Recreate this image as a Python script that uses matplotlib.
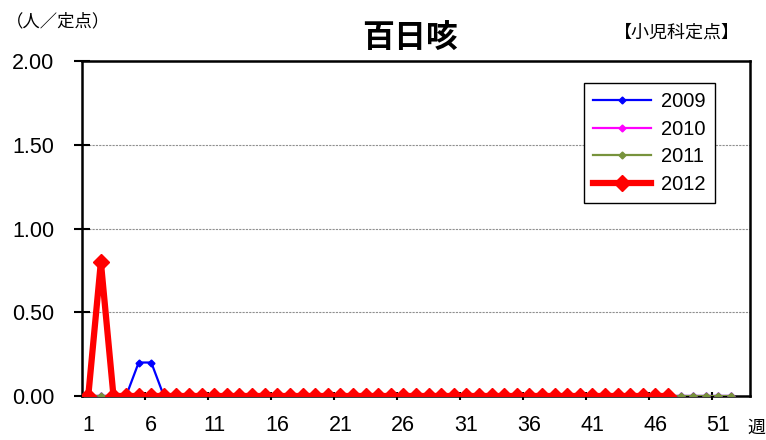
import numpy as np
import matplotlib
matplotlib.use('Agg')
import matplotlib.pyplot as plt

plt.rcParams['font.family'] = ['Liberation Sans', 'Noto Sans CJK JP']

# weekly values (per sentinel site)
weeks = np.arange(1, 53)
v2009 = [0, 0, 0, 0, 0.2, 0.2] + [0] * 46
v2010 = [0] * 52
v2011 = [0] * 52
v2012 = [0, 0.8] + [0] * 45
labels = ['2009', '2010', '2011', '2012']
xlabels = [1, 6, 11, 16, 21, 26, 31, 36, 41, 46, 51]

fig = plt.figure(figsize=(7.66, 4.40), dpi=100)
ax = fig.add_axes([0.107, 0.1, 0.872, 0.761])

ax.plot(weeks, v2009, color='#0000ff', lw=1.6, marker='D', ms=3.5, label=labels[0], zorder=3)
ax.plot(weeks, v2010, color='#ff00ff', lw=1.6, marker='D', ms=3.5, label=labels[1], zorder=3)
ax.plot(weeks, v2011, color='#77933c', lw=1.6, marker='D', ms=3.5, label=labels[2], zorder=3)
ax.plot(weeks[:len(v2012)], v2012, color='#ff0000', lw=4.5, marker='D', ms=8, label=labels[3], zorder=4)

ax.set_xlim(0.5, 53.5)
ax.set_ylim(0, 2.0)
ax.set_yticks([0, 0.5, 1.0, 1.5, 2.0])
ax.set_yticklabels(['%.2f' % v for v in [0, 0.5, 1.0, 1.5, 2.0]], fontsize=15.5)
ax.set_xticks(xlabels)
ax.set_xticklabels([str(x) for x in xlabels], fontsize=15.5)
ax.tick_params(axis='x', length=0, pad=14)
ax.set_xticks(np.arange(5.5, 54, 5), minor=True)
ax.tick_params(axis='x', which='minor', length=6, width=1.5, direction='inout')
ax.tick_params(axis='y', length=12, width=1.5, direction='inout', pad=14)
ax.grid(axis='y', color='#909090', lw=0.8, ls=(0, (2, 1)))
for s in ax.spines.values():
    s.set_linewidth(1.8)

leg = ax.legend(loc='upper right', bbox_to_anchor=(0.948, 0.934), borderaxespad=0,
                fontsize=14.5, frameon=True, fancybox=False, edgecolor='black', framealpha=1,
                handlelength=2.9, handletextpad=0.5, labelspacing=0.42, borderpad=0.45)
leg.get_frame().set_linewidth(1)

fig.text(0.535, 0.912, '百日咳', ha='center', va='center', fontsize=23, fontweight='bold',
         family=['Noto Sans CJK JP'])
fig.text(0.008, 0.952, '（人／定点）', ha='left', va='center', fontsize=12.5,
         family=['Noto Sans CJK JP'])
fig.text(0.884, 0.925, '【小児科定点】', ha='center', va='center', fontsize=13,
         family=['Noto Sans CJK JP'])
fig.text(0.987, 0.028, '週', ha='center', va='center', fontsize=13,
         family=['Noto Sans CJK JP'])

fig.savefig('out.png', dpi=100)
